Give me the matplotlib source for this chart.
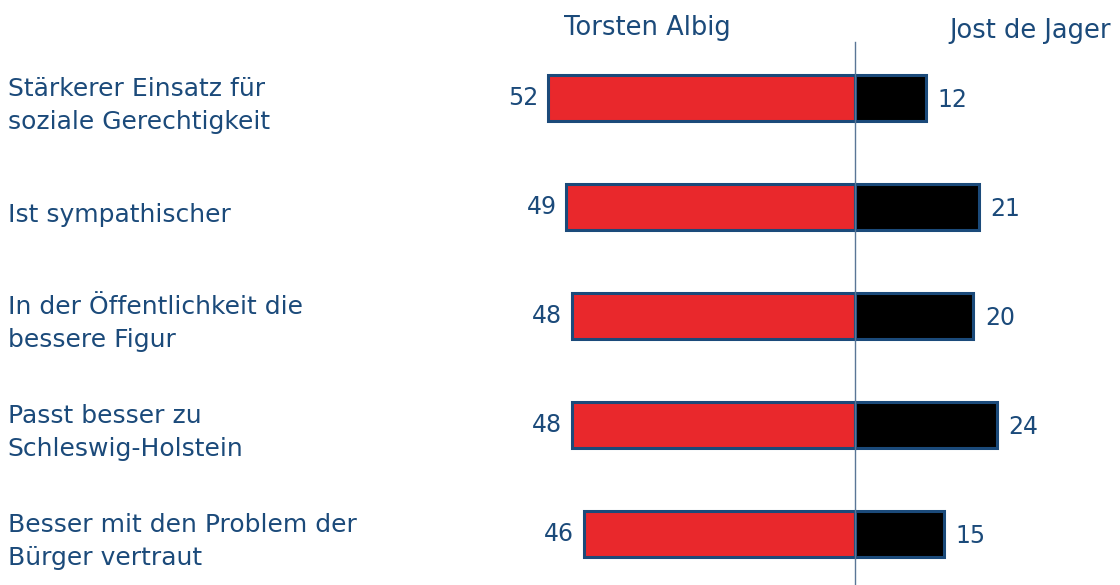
import matplotlib.pyplot as plt

categories = [
    "Stärkerer Einsatz für\nsoziale Gerechtigkeit",
    "Ist sympathischer",
    "In der Öffentlichkeit die\nbessere Figur",
    "Passt besser zu\nSchleswig-Holstein",
    "Besser mit den Problem der\nBürger vertraut",
]
albig = [52, 49, 48, 48, 46]
jager = [12, 21, 20, 24, 15]
names = ["Torsten Albig", "Jost de Jager"]

navy = "#1B4A7A"
red = "#E9282C"

fig = plt.figure(figsize=(11.2, 5.85), dpi=100)
ax = fig.add_axes([0, 0, 1, 1])

ypos = range(len(categories))
ax.barh(ypos, [-v for v in albig], height=0.42, color=red,
        edgecolor=navy, linewidth=2.2)
ax.barh(ypos, jager, height=0.42, color="black",
        edgecolor=navy, linewidth=2.2)

# px -> data: 5.9 px per unit, zero at x=855
ax.set_xlim(-855 / 5.9, 265 / 5.9)
ax.set_ylim(4 + 51 / 109, -98 / 109)
ax.axvline(0, ymin=0, ymax=(585 - 42) / 585, color="#5A7696", linewidth=1)

for y, a, j in zip(ypos, albig, jager):
    ax.text(-a - 1.6, y, str(a), ha="right", va="center", color=navy, fontsize=17)
    ax.text(j + 2.0, y + 0.02, str(j), ha="left", va="center", color=navy, fontsize=17)

ylab = ax.get_yaxis_transform()
for y, c in zip(ypos, categories):
    ax.text(0.007, y + 0.07, c, transform=ylab, ha="left", va="center",
            color=navy, fontsize=18, linespacing=1.45)

ax.text(647 / 1120, 1 - 28 / 585, names[0], transform=ax.transAxes,
        ha="center", va="center", color=navy, fontsize=18.5)
ax.text(1030 / 1120, 1 - 31 / 585, names[1], transform=ax.transAxes,
        ha="center", va="center", color=navy, fontsize=18.5)

ax.axis("off")
fig.savefig("out.png", dpi=100)
